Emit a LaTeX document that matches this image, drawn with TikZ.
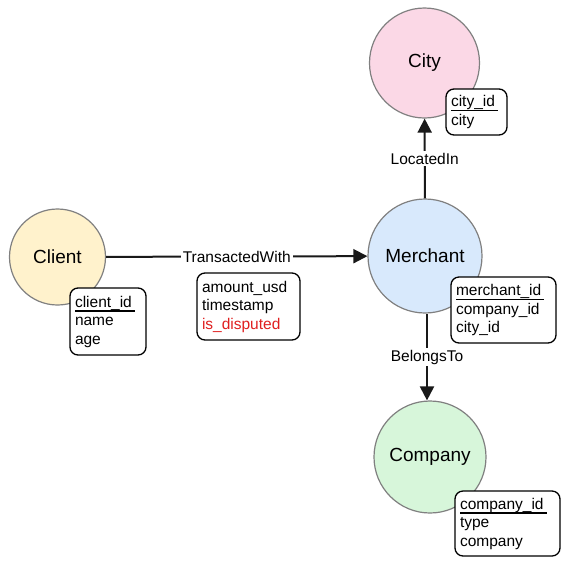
\documentclass[tikz,border=0pt]{standalone}
\usepackage{fontspec}
\setmainfont{Liberation Sans}
\usetikzlibrary{arrows.meta}
\definecolor{clientfill}{HTML}{FFF2CC}
\definecolor{cityfill}{HTML}{FBD8E6}
\definecolor{merchfill}{HTML}{D8E9FC}
\definecolor{compfill}{HTML}{D7F6DA}
\definecolor{ringgray}{HTML}{808080}
\definecolor{flagred}{HTML}{E02020}
\newsavebox\keyfieldbox
\newcommand{\keyfield}[1]{\sbox\keyfieldbox{#1}\rlap{\rule[-4.6pt]{\dimexpr\wd\keyfieldbox+3pt\relax}{1.2pt}}\usebox\keyfieldbox}
\tikzset{
  ent/.style={circle, draw=ringgray, line width=1.2pt, font=\fontsize{19}{22}\selectfont, inner sep=0pt},
  attrbox/.style={draw=black, line width=1.3pt, fill=white, rounded corners=8pt, align=left,
    inner xsep=5pt, inner ysep=0pt, font=\fontsize{15.5}{18.5}\selectfont},
  rel/.style={line width=2pt, draw=black!90, -{Triangle[length=14pt,width=14pt]}},
  rellabel/.style={fill=white, inner sep=2pt, font=\fontsize{15.5}{18}\selectfont}
}
\begin{document}
\begin{tikzpicture}[x=1pt,y=-1pt]
\useasboundingbox (0,0) rectangle (570,566);
% entities
\node[ent, fill=clientfill, minimum size=96pt] (client) at (57.5,257) {Client};
\node[ent, fill=cityfill, minimum size=110pt] (city) at (424.5,63) {City};
\node[ent, fill=merchfill, minimum size=114pt] (merchant) at (425,256) {Merchant};
\node[ent, fill=compfill, minimum size=112pt] (company) at (430,457) {Company};
% relations
\draw[rel] (client) -- node[rellabel] {TransactedWith} (merchant);
\draw[rel] (merchant) -- node[rellabel] {LocatedIn} (city);
\draw[rel] ([xshift=2pt]merchant.south) -- node[rellabel] {BelongsTo} ([xshift=-3pt]company.north);
% attribute boxes
\node[attrbox, text width=66pt, minimum width=76pt, minimum height=67pt] (clientattr) at (108,321.5)
  {\keyfield{client\_id}\\name\\age};
\node[attrbox, text width=93pt, minimum width=103pt, minimum height=67pt] (txattr) at (248.5,306.5)
  {amount\_usd\\timestamp\\\textcolor{flagred}{is\_disputed}};
\node[attrbox, text width=51pt, minimum width=61pt, minimum height=46pt] (cityattr) at (476.5,112)
  {\keyfield{city\_id}\\city};
\node[attrbox, text width=95pt, minimum width=105pt, minimum height=66pt] (merchattr) at (503.5,310)
  {\keyfield{merchant\_id}\\company\_id\\city\_id};
\node[attrbox, text width=95pt, minimum width=105pt, minimum height=65pt] (compattr) at (507.5,523.5)
  {\keyfield{company\_id}\\type\\company};
\end{tikzpicture}
\end{document}
